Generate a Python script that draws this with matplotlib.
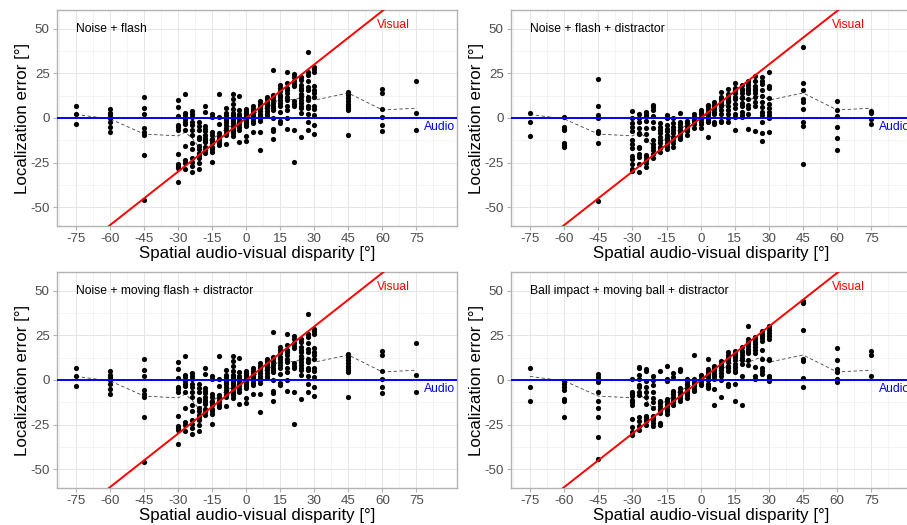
import numpy as np
import matplotlib.pyplot as plt

plt.rcParams['font.family'] = ['Liberation Sans', 'DejaVu Sans']
plt.rcParams['axes.unicode_minus'] = False

# localization error per disparity column, one dict per condition
noise_flash = {
    -75: [7, 2, -3.5],
    -60: [5, 3, 1.5, 0, -2.5, -5, -8],
    -45: [12, 5.5, 2.5, -5.5, -8, -9.5, -21, -46],
    -30: [10, 6, 1, -4, -5, -6.5, -20, -25.5, -27, -28, -36],
    -27: [13.5, 3, 1.5, -0.5, -2, -3.5, -7, -15.5, -23.5, -25, -28.5],
    -24: [4, 2.5, 0.5, -2, -4, -6.5, -9.5, -14, -17.5, -22.5, -24.5, -27, -30],
    -21: [-2.5, -4.5, -7, -10.5, -11.5, -15.5, -17.5, -19.5, -21, -22.5, -25, -28.5],
    -18: [6.5, 3.5, -4.5, -6, -7.5, -9.5, -11, -12.5, -13.5, -16, -18, -19.5],
    -15: [2, 0.5, -8, -9.5, -11.5, -13, -14, -16, -17.5, -19, -24.5],
    -12: [13.5, 0.5, -3.5, -8.5, -10, -11.5, -12.5, -14, -15],
    -9: [5.5, 3, 1.5, 0, -1, -2.5, -4, -5.5, -7, -8.5, -9.5, -14.5],
    -6: [13.5, 10.5, 8, 5, 3, 1.5, 0.5, -0.5, -1.5, -3, -4.5, -6, -7.5, -8.5, -10],
    -3: [12.5, 4.5, 2.5, 1, -0.5, -2, -3.5, -5, -6.5, -13.5],
    0: [5, 4, 3, 2, 1, 0, -1, -2, -3.5, -4.5, -10, -13],
    3: [6.5, 5, 4, 2.5, 1, 0, -1.5, -3, -8],
    6: [9.5, 8, 7, 5.5, 4, 2.5, 1, 0, -1.5, -8, -18],
    9: [11.5, 10.5, 9, 8, 6.5, 5.5, 4, 2.5, 1.5],
    12: [27, 13, 11.5, 10, 8.5, 7, 5.5, 4.5, 0, -6, -7.5, -12],
    15: [18.5, 17, 15, 13, 11.5, 10, 8.5, 6.5, 3.5, -1.5, -3],
    18: [25.5, 19.5, 17, 15.5, 14, 12, 10, 7, 4.5, 0, -6],
    21: [24.5, 23, 20.5, 19, 18, 9.5, 8, 7, -6.5, -24.5],
    24: [23, 21.5, 18.5, 17, 15.5, 13.5, 12, 10, 8.5, 7, 5.5, 3, -10.5],
    27: [37, 25.5, 24, 21, 17.5, 15.5, 12, 10, 7, 5.5, 2.5, -2, -6.5],
    30: [28.5, 27.5, 26, 18, 15.5, 14, 11.5, 6.5, 5, 1.5, -4, -9],
    45: [14.5, 13, 11, 9.5, 8, 7, 5.5, 4.5, -9.5],
    60: [16.3, 14, 5, 0.5, -4, -7.5],
    75: [20.5, 3, -7],
}

noise_flash_distractor = {
    -75: [3, -2.5, -10],
    -60: [0.5, -5, -6, -7, -14, -15, -16],
    -45: [22, 7, 1.5, 0, -7.5, -8.5, -14, -46.5],
    -30: [4, 0, -3, -5, -7.5, -12.5, -14.5, -17, -21.5, -23, -25.5, -28.5, -29.5],
    -27: [2, 0, -2.5, -5.5, -8.5, -9, -16, -17, -20, -22, -25.5, -30.5],
    -24: [3.5, 2.5, 1, -1.5, -5.5, -9, -12.5, -21, -22, -23.5, -25, -27.5],
    -21: [7.5, 6, 4.5, 1, -2.5, -5.5, -12.5, -14.5, -16, -18, -20, -22.5],
    -18: [-3, -5, -7, -8.5, -10.5, -12.5, -14, -16, -17, -19],
    -15: [1.5, 0, -4, -6, -7.5, -9.5, -11, -12.5, -14, -15.5, -17.5],
    -12: [0, -3, -5, -6.5, -8.5, -10.5, -12.5, -14, -16],
    -9: [3, -2, -3.5, -5, -6.5, -7.5, -9, -10.5, -12],
    -6: [-1.5, -3, -4.5, -6, -7.5, -9.5],
    -3: [2, 0.5, -1, -2.5, -3.5, -5.5],
    0: [4.5, 3.5, 2, 0.5, -0.5, -2, -3.5, -5.5],
    3: [7.5, 6.5, 5, 3.5, 2, 0.5, -1, -2.5, -10.5],
    6: [9, 7.5, 6.5, 5, 3.5, 2, -2.5, -3.5],
    9: [14.5, 12, 10.5, 9, 8, 6.5, 4.5, 2.5, -1.5, -2.5],
    12: [16, 13.5, 12, 10.5, 9, 6.5, 4.5, 2.5, 0, -2],
    15: [19.5, 17, 15.5, 14, 12, 10.5, 8, 5.5, 2.5, 0.5, -6.5],
    18: [18.5, 16.5, 15.5, 14, 12, 11, 8.5, 6.5, 3.5, 1.5, 0.5],
    21: [21, 20, 18.5, 17, 15.5, 14, 10.5, 7.5, 5.5, 2.5, -6],
    24: [23.5, 20.5, 18, 16.5, 15.5, 14, 12, 9, 7, -7.5],
    27: [23, 21, 19, 15.5, 12.5, 9, 6, 3.5, 1.5, -2.5, -8.5, -13],
    30: [26, 18, 17, 11, 8, 5.5, 3.5, 1.5, 0, -8],
    45: [40, 19.5, 15.5, 10.5, 9, 5, -2, -4.5, -26],
    60: [9.5, 4.5, 1, -5, -11, -18],
    75: [4, 3, -0.5, -3.5],
}

ball_impact = {
    -75: [6.5, -4, -11.5],
    -60: [-0.5, -2, -4, -5.5, -10.5, -11.5, -21],
    -45: [3.5, 1.5, 0, -1, -7, -11.5, -15.5, -20.5, -32, -44.5],
    -30: [0.5, -7, -8, -9, -11, -12.5, -14, -22, -26.5, -29, -31],
    -27: [7.5, 6.5, 3, 0.5, -3, -4, -6.5, -8.5, -20.5, -23, -25.5, -28],
    -24: [6, 5, -0.5, -4, -7, -9.5, -13.5, -20, -21, -22, -23, -25],
    -21: [2, 0, -3, -6.5, -10, -12.5, -15.5, -20, -21.5, -22.5, -24, -25.5],
    -18: [5, -11.5, -13, -14.5, -16, -17, -18.5, -24, -25],
    -15: [8, 0.5, -0.5, -10.5, -12, -13.5, -14.5, -16, -17.5, -19],
    -12: [4, 1.5, -6, -7, -8, -9.5, -11, -12.5, -14],
    -9: [6, 5, -4.5, -6, -7, -8.5, -10, -11.5],
    -6: [0.5, -0.5, -2, -3, -4.5, -6, -7.5, -8.5, -10],
    -3: [14, 0.5, -1, -2, -3.5, -5, -6],
    0: [3, 2, 0.5, -0.5, -2, -3],
    3: [12, 6, 5, 4, 3, 1.5, 0, -2, -3.5, -4.5],
    6: [8, 7, 6, 5, 3.5, 2, 0.5, -5, -14],
    9: [10.5, 9, 8, 6.5, 5.5, 4, 2.5, 0, -9.5],
    12: [15.5, 14, 12.5, 11, 10, 8, 7, 5, -2.5, -3.5],
    15: [16, 15, 14, 13, 11, 9, 7.5, 5.5, 4.5, -2.5, -12],
    18: [18.5, 16.5, 15.5, 14, 12.5, 11, 9, 2, -14],
    21: [30.5, 23, 21.5, 20.5, 19, 17.5, 16, 15, 11, 8.5],
    24: [24, 23, 21.5, 20, 18.5, 17, 15, 7.5, 2.5, 0.5],
    27: [27.5, 26, 24.5, 23.5, 22, 17, 12, 6.5, 5, 3.5],
    30: [30.5, 29.5, 28, 26.5, 24.5, 23, 11.5, 11, 2.5, 1.5, 0.5, -0.5],
    45: [44, 43, 28, 11.5, 10.5, 1, -4],
    60: [18, 11, 6, 4.5, 0.5, -1],
    75: [16.5, 14, 2.5],
}

# mean curve shown dashed in every panel
trend_x = [-75, -60, -45, -30, -27, -24, -21, -18, -15, -12, -9, -6, -3,
           0, 3, 6, 9, 12, 15, 18, 21, 24, 27, 30, 45, 60, 75]
trend_y = [2, -0.5, -9, -10, -8, -11, -16, -13, -12, -9, -6, -4, -2,
           0, 2, 4, 6, 8, 11, 11, 10, 11.5, 13, 10, 14, 4.5, 5.5]

panels = [
    ("Noise + flash", noise_flash),
    ("Noise + flash + distractor", noise_flash_distractor),
    ("Noise + moving flash + distractor", noise_flash),
    ("Ball impact + moving ball + distractor", ball_impact),
]

x_ticks = np.arange(-75, 76, 15)
y_ticks = [-50, -25, 0, 25, 50]

W, H = 907, 525
# panel boxes in pixels: left, top, width, height
boxes = [(56.7, 10, 400.6, 216), (510.7, 10, 401.6, 216),
         (56.7, 272, 400.6, 216), (510.7, 272, 401.6, 216)]

fig = plt.figure(figsize=(W / 100, H / 100), dpi=100)

for (title, errors), (l, t, w, h) in zip(panels, boxes):
    ax = fig.add_axes([l / W, 1 - (t + h) / H, w / W, h / H])
    xs, ys = [], []
    for d, vals in errors.items():
        xs += [d] * len(vals)
        ys += vals

    ax.set_xlim(-83.5, 93)
    ax.set_ylim(-60.5, 60.5)
    ax.set_xticks(x_ticks)
    ax.set_yticks(y_ticks)
    ax.set_xticks(np.arange(-82.5, 93, 15), minor=True)
    ax.set_yticks([-37.5, -12.5, 12.5, 37.5], minor=True)
    ax.grid(which='major', color='#E6E6E6', lw=0.7)
    ax.grid(which='minor', color='#F0F0F0', lw=0.5)
    ax.set_axisbelow(True)
    ax.tick_params(which='major', length=3, width=0.8, color='#B3B3B3',
                   labelcolor='#4D4D4D', labelsize=9.6, pad=2)
    ax.tick_params(which='minor', length=0)
    for sp in ax.spines.values():
        sp.set_color('#B3B3B3')
        sp.set_linewidth(1.0)

    ax.plot(trend_x, trend_y, color='#404040', lw=0.6, ls=(0, (4, 3)), zorder=2)
    ax.scatter(xs, ys, s=14, color='black', linewidths=0, zorder=3)
    ax.axline((0, 0), slope=1, color='red', lw=1.4, zorder=4)
    ax.axhline(0, color='blue', lw=1.4, zorder=4)

    ax.text(-75, 50, title, fontsize=8.7, ha='left', va='center')
    ax.text(65, 52, "Visual", color='red', fontsize=8.7, ha='center', va='center')
    ax.text(85, -5, "Audio", color='blue', fontsize=8.7, ha='center', va='center')

    ax.set_xlabel("Spatial audio-visual disparity [°]", fontsize=12.2, labelpad=1)
    ax.set_ylabel("Localization error [°]", fontsize=12.2, labelpad=0)

fig.savefig("out.png", dpi=100)
